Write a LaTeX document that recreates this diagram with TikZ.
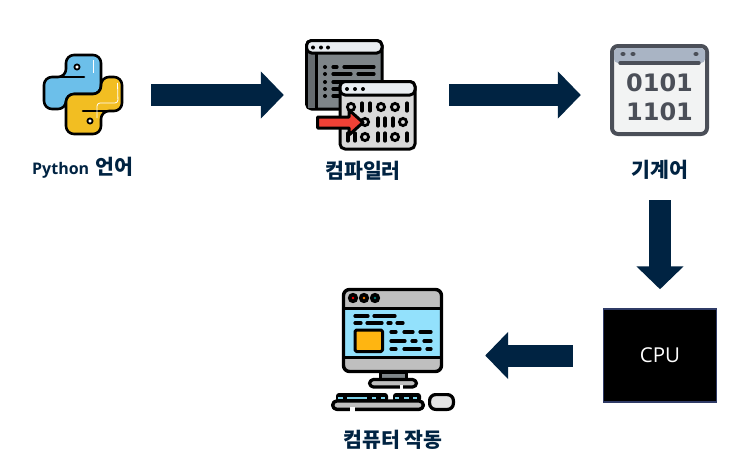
\documentclass[tikz,border=0pt]{standalone}
\usepackage{fontspec}
\setmainfont{Open Sans}
\newfontfamily\krfont{Noto Sans CJK KR}
\newfontfamily\numfont{DejaVu Sans}
\usetikzlibrary{arrows.meta}
\definecolor{navy}{HTML}{002342}
\definecolor{pyblue}{HTML}{6CBFEA}
\definecolor{pyyellow}{HTML}{F2BE22}
\definecolor{inkgray}{HTML}{4B4F58}
\definecolor{titlelight}{HTML}{E9EDF1}
\definecolor{backbody}{HTML}{7E8589}
\definecolor{backside}{HTML}{666C70}
\definecolor{frontbody}{HTML}{D9D9D9}
\definecolor{arrowred}{HTML}{EF4136}
\definecolor{screenblue}{HTML}{93E1FC}
\definecolor{monogray}{HTML}{BFBFBF}
\definecolor{boxorange}{HTML}{FFB511}
\definecolor{cpuedge}{HTML}{2F3B66}
\definecolor{machtitle}{HTML}{A9B4C4}
\definecolor{machbody}{HTML}{F2F3F3}
\tikzset{
  iconbox/.style={inner sep=0pt,minimum width=#1,minimum height=80pt},
  flow/.style={draw=navy,line width=22pt,-{Triangle[length=23pt,width=46pt,fill=navy,color=navy]}},
  caption/.style={text=navy,inner sep=0pt,font=\fontsize{20.5}{24}\selectfont\krfont\bfseries},
  ink/.style={draw=black,line width=3pt,line join=round},
  pyink/.style={draw=black,line width=2.6pt,line join=round},
  bit/.style={draw=black,line width=3.2pt,line cap=round},
  ring/.style={draw=black,line width=2.8pt,fill=frontbody},
  txt/.style={draw=black,line width=3.2pt,line cap=round},
  keytop/.style={fill=black,rounded corners=3pt},
  keyline/.style={draw=screenblue!85!teal,line width=1.6pt}
}
\begin{document}
\begin{tikzpicture}[x=1pt,y=-1pt]
\useasboundingbox (0,0) rectangle (734,466);
% invisible icon frames used as connector ends
\node[iconbox=78pt] (python) at (83,95) {};
\node[iconbox=111pt] (compiler) at (360.5,95) {};
\node[iconbox=99pt,minimum height=92pt] (machine) at (660,95) {};
\node[iconbox=124pt] (computer) at (393,355.5) {};
% CPU
\node[draw=cpuedge,fill=black,line width=1.5pt,minimum width=113pt,minimum height=93pt,inner sep=0pt,text=white,font=\fontsize{20.5}{24}\selectfont] (cpu) at (660,355.5) {CPU};
% connectors
\draw[flow,shorten <=29pt,shorten >=21pt] (python.east) -- (compiler.west);
\draw[flow,shorten <=33pt,shorten >=29.5pt] (compiler.east) -- (machine.west);
\draw[flow,shorten <=59pt,shorten >=19pt] (machine.south) -- (cpu.north);
\draw[flow,shorten <=30pt,shorten >=30pt] (cpu.west) -- (computer.east);
% Python logo
\draw[pyink,fill=pyblue,rounded corners=8pt] (66,77) -- (66,55) -- (101,55) -- (101,94) -- (66,94) -- (66,109) -- (44,109) -- (44,77) -- cycle;
\draw[pyink,fill=pyyellow,rounded corners=8pt] (101,111) -- (101,134) -- (66,134) -- (66,94) -- (101,94) -- (101,77) -- (122,77) -- (122,111) -- cycle;
\draw[pyink,line cap=round] (52,77) -- (84,77);
\draw[pyink,line cap=round] (83,111) -- (114,111);
\draw[pyink,fill=white,line width=1.8pt] (77,67) circle (2.6pt);
\draw[pyink,fill=white,line width=1.8pt] (90,121) circle (2.6pt);
\draw[white,line width=.8pt,rounded corners=3pt] (117.5,83) -- (118,103) -- (97,103) -- (97,118);
\draw[white,line width=.8pt] (93,60) -- (93,73);
% Compiler: back window
\draw[ink,fill=backbody,rounded corners=5pt] (306.5,40.5) rectangle (382,109);
\fill[backside] (308,54) rectangle (316,107.5);
\draw[ink,fill=titlelight,rounded corners=5pt] (306.5,40.5) -- (382,40.5) -- (382,53) -- (306.5,53) -- cycle;
\draw[ink] (316,53) -- (316,108);
\foreach \dx in {313,321,328} \fill (\dx,47.5) circle (2pt);
\foreach \dy in {67,74,82,89,96} \fill (325,\dy) circle (2pt);
\draw[txt] (333,67) -- (337,67) (344,67) -- (374,67);
\draw[txt] (333,74) -- (351,74) (358,74) -- (374,74);
\draw[txt] (333,82) -- (345,82);
\draw[txt] (333,89) -- (345,89);
\draw[txt] (333,96) -- (345,96);
% Compiler: front window
\draw[ink,fill=frontbody,rounded corners=5pt] (340,81.5) rectangle (415,149);
\draw[ink,fill=titlelight,rounded corners=5pt] (340,81.5) -- (415,81.5) -- (415,95) -- (340,95) -- cycle;
\foreach \dx in {347,355,363} \fill (\dx,89) circle (2pt);
\foreach \rx in {351,381,395} \draw[ring] (\rx,107) circle (3.6pt);
\foreach \bx in {362,370,407} \draw[bit] (\bx,103) -- (\bx,111);
\foreach \rx in {365,403} \draw[ring] (\rx,122) circle (3.6pt);
\foreach \bx in {378,385,393} \draw[bit] (\bx,118) -- (\bx,126);
\foreach \rx in {365,395} \draw[ring] (\rx,137) circle (3.6pt);
\foreach \bx in {348,355,378,385,407} \draw[bit] (\bx,133) -- (\bx,141);
\draw[ink,fill=arrowred] (317.5,117) -- (349,117) -- (349,110) -- (363,122.5) -- (349,135) -- (349,128) -- (317.5,128) -- cycle;
% Machine code window
\draw[draw=inkgray,line width=4pt,fill=machbody,rounded corners=6pt] (612,46) rectangle (707,134);
\fill[machtitle,rounded corners=4pt] (614,48) rectangle (705,63);
\draw[inkgray,line width=3.4pt,line cap=round] (620,63) -- (699,63);
\foreach \dx in {623,633,696} \fill[inkgray] (\dx,54) ellipse (2.6pt and 2pt);
\node[inner sep=0pt,text=inkgray,font=\fontsize{24}{26}\selectfont\numfont\bfseries] (code1) at (659.5,82.5) {0101};
\node[inner sep=0pt,text=inkgray,font=\fontsize{24}{26}\selectfont\numfont\bfseries] (code2) at (659.5,111.5) {1101};
% Computer: monitor
\fill[monogray,rounded corners=6pt] (343,289) rectangle (442,372);
\fill[screenblue] (344,308) rectangle (441,357);
\draw[ink,line width=3.4pt,rounded corners=6pt] (343.5,289.5) rectangle (441.5,371.5);
\draw[ink,line width=3pt] (343,308) -- (442,308) (343,357) -- (442,357);
\foreach \dx/\dc in {353/red,364/orange,375/teal} {
  \fill (\dx,298) circle (5.2pt);
  \fill[\dc] (\dx,298) circle (1.3pt);
}
\draw[txt] (355,316) -- (368,316) (374,316) -- (395,316);
\draw[txt] (355,323) -- (361,323) (367,323) -- (382,323) (388,323) -- (391,323) (397,323) -- (403,323);
\draw[ink,fill=boxorange,rounded corners=1.5pt] (355,330) rectangle (382.5,351.5);
\draw[txt] (391,332) -- (396,332) (404,332) -- (413,332) (420,332) -- (431,332);
\draw[txt] (391,341) -- (405,341) (412,341) -- (416,341) (424,341) -- (431,341);
\draw[txt] (391,349) -- (396,349) (404,349) -- (420,349) (427,349) -- (431,349);
% Computer: stand
\draw[ink,fill=backbody] (380,372) rectangle (406,379);
\draw[ink,line width=3.2pt,fill=monogray,rounded corners=4pt] (369.5,379.5) rectangle (416.5,387);
\fill[white] (399.5,385) rectangle (403,389);
% Computer: keyboard
\fill[keytop] (336,393) rectangle (388,402);
\fill[keytop] (393,393) rectangle (421,402);
\draw[keyline] (338,397.7) -- (343,397.7) (347,397.7) -- (367,397.7) (372,397.7) -- (376,397.7) (381,397.7) -- (385,397.7) (395,397.7) -- (399,397.7) (404,397.7) -- (409,397.7) (413,397.7) -- (417,397.7);
\draw[ink,line width=3.4pt,fill=monogray,rounded corners=4pt] (332.7,401) rectangle (423.3,409.3);
\fill[white] (350,407) rectangle (355,412);
% Computer: mouse
\draw[ink,line width=3.2pt,fill=frontbody!70!white,rounded corners=6pt] (429.6,409.4) -- (429.6,394.6) -- (453.4,394.6) -- (453.4,409.4) -- cycle;
% captions
\node[caption,anchor=base west] (pylabel) at (32,174) {{\fontsize{16}{18}\selectfont\rmfamily\bfseries Python}\hspace{2pt} 언어};
\node[caption] (complabel) at (363,171) {컴파일러};
\node[caption] (machlabel) at (660,170) {기계어};
\node[caption] (runlabel) at (393,440) {컴퓨터 작동};
\end{tikzpicture}
\end{document}
